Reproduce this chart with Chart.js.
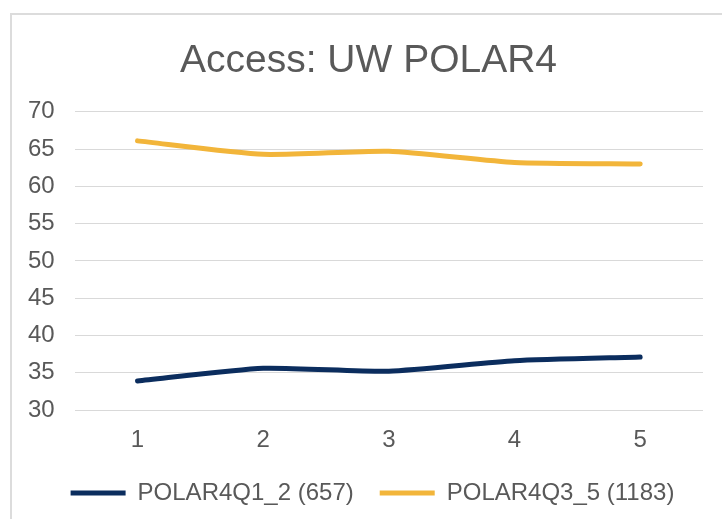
<!DOCTYPE html>
<html>
<head>
<meta charset="utf-8">
<script src="https://cdn.jsdelivr.net/npm/chart.js@4"></script>
<style>
    html, body { margin: 0; padding: 0; background: #fff; overflow: hidden; }
    #moldura { position: absolute; left: 10px; top: 13px; width: 900px; height: 700px; border-left: 2px solid #dcdcdc; border-top: 2px solid #dcdcdc; }
    #caixa { position: absolute; left: 0; top: 0; width: 722px; height: 519px; }
</style>
</head>
<body>
<div id="moldura"></div>
<div id="caixa"><canvas id="grafico"></canvas></div>
<script>
// Dados
const categorias = ['1', '2', '3', '4', '5'];
const serieQ12 = [33.9, 35.6, 35.2, 36.6, 37.1];
const serieQ35 = [66.1, 64.3, 64.7, 63.2, 63.0];
const nomesSeries = ['POLAR4Q1_2 (657)', 'POLAR4Q3_5 (1183)'];
const coresSeries = ['#0b2d5e', '#f2b53a'];
const ticksY = { min: 30, max: 70, passo: 5 };

const fonte = "'Liberation Sans', Arial, sans-serif";
const cinzaTexto = '#595959';

// Desloca título e legenda para a direita, como no original
const deslocarCaixas = {
    id: 'deslocarCaixas',
    afterLayout(chart) {
        if (chart.legend) {
            chart.legend.left += 34;
        }
        if (chart.titleBlock) {
            chart.titleBlock.left += 26;
        }
    }
};

function criarGrafico() {
    const ctx = document.getElementById('grafico');
    new Chart(ctx, {
        type: 'line',
        data: {
            labels: categorias,
            datasets: [serieQ12, serieQ35].map((dados, i) => ({
                label: nomesSeries[i],
                data: dados,
                borderColor: coresSeries[i],
                backgroundColor: coresSeries[i],
                borderWidth: 5,
                borderCapStyle: 'round',
                pointRadius: 0,
                tension: 0.2
            }))
        },
        options: {
            responsive: true,
            maintainAspectRatio: false,
            animation: false,
            layout: { padding: { left: 8, right: 19, top: 38, bottom: 4 } },
            plugins: {
                title: {
                    display: true,
                    text: 'Access: UW POLAR4',
                    color: cinzaTexto,
                    font: { family: fonte, size: 39, weight: 'normal' },
                    padding: { top: 0, bottom: 27 }
                },
                legend: {
                    position: 'bottom',
                    labels: {
                        color: cinzaTexto,
                        font: { family: fonte, size: 24 },
                        boxWidth: 55,
                        boxHeight: 5,
                        padding: 26,
                        generateLabels: (chart) => Chart.defaults.plugins.legend.labels.generateLabels(chart)
                            .map(item => Object.assign(item, { lineWidth: 0 }))
                    }
                },
                tooltip: { enabled: false }
            },
            scales: {
                x: {
                    offset: true,
                    grid: { display: false },
                    border: { display: false },
                    ticks: { color: cinzaTexto, font: { family: fonte, size: 24 }, padding: 8 },
                    afterFit: (scale) => { scale.height = 45; }
                },
                y: {
                    min: ticksY.min,
                    max: ticksY.max,
                    grid: { color: '#d9d9d9', lineWidth: 1, drawTicks: false },
                    border: { display: false },
                    ticks: { stepSize: ticksY.passo, autoSkip: false, color: cinzaTexto, font: { family: fonte, size: 24 }, padding: 20 }
                }
            }
        },
        plugins: [deslocarCaixas]
    });
}

document.addEventListener('DOMContentLoaded', criarGrafico);
</script>
</body>
</html>
